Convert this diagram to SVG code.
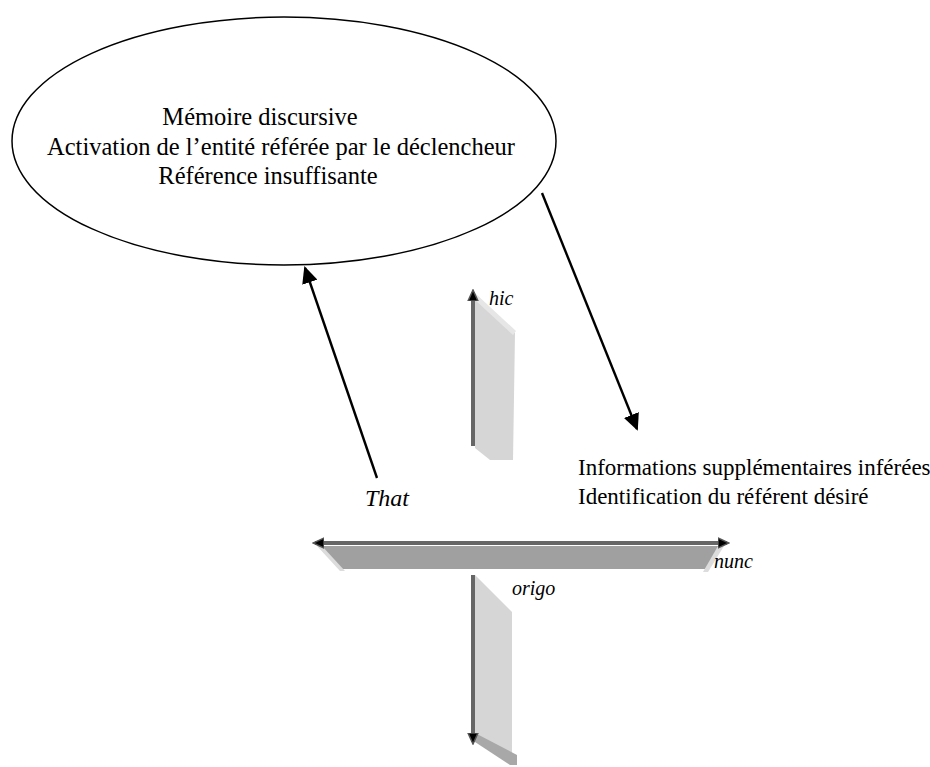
<svg xmlns="http://www.w3.org/2000/svg" width="930" height="767" viewBox="0 0 930 767">
<defs>
<style>
.t{font-family:"Liberation Serif","Times New Roman",serif;font-size:23px;fill:#000}
.e{font-size:24.5px}
.i{font-family:"Liberation Serif","Times New Roman",serif;font-style:italic;font-size:20px;fill:#000}
.bar{stroke:#666;stroke-width:4;fill:none}
.c{stroke:#000;stroke-width:2.4;fill:none}
</style>
<marker id="ah" markerWidth="17" markerHeight="16" refX="15" refY="8" orient="auto" markerUnits="userSpaceOnUse" viewBox="0 0 17 16"><path d="M0,0 L17,8 L0,16 z" fill="#000"/></marker>
<marker id="sh" markerWidth="12" markerHeight="12" refX="9" refY="6" orient="auto" markerUnits="userSpaceOnUse" viewBox="0 0 12 12"><path d="M0,1 L11,6 L0,11 z" fill="#000" stroke="#555" stroke-width="1.5"/></marker>
</defs>
<rect width="930" height="767" fill="#fff"/>
<g id="memoire">
<ellipse cx="284" cy="141" rx="272" ry="124" fill="none" stroke="#000" stroke-width="1.5"/>
<text class="t e" x="260" y="125" text-anchor="middle">Mémoire discursive</text>
<text class="t e" x="281" y="155" text-anchor="middle">Activation de l’entité référée par le déclencheur</text>
<text class="t e" x="268" y="184" text-anchor="middle">Référence insuffisante</text>
</g>
<g id="axe-hic">
<polygon points="475,295 515,333 513,460 490,460 475,448" fill="#d6d6d6"/>
<polygon points="475,293 516,331 513,335 474,299" fill="#e6e6e6"/>
<line class="bar" x1="473" y1="446" x2="473" y2="292" marker-end="url(#sh)"/>
<text class="i" x="489" y="305">hic</text>
</g>
<g id="axe-nunc">
<polygon points="318,546 723,546 705,569 342,569" fill="#a0a0a0"/>
<polygon points="317,546 322,546 345,571 340,571" fill="#dcdcdc"/>
<polygon points="718,546 724,546 708,572 703,572" fill="#dcdcdc"/>
<line class="bar" x1="325" y1="543" x2="720" y2="543"/>
<line class="bar" x1="330" y1="543" x2="315" y2="543" marker-end="url(#sh)"/>
<line class="bar" x1="710" y1="543" x2="727" y2="543" marker-end="url(#sh)"/>
<text class="i" x="714" y="568">nunc</text>
</g>
<g id="axe-origo">
<polygon points="475,575 512,612 512,757 475,737" fill="#d6d6d6"/>
<polygon points="475,733 517,755 517,765 510,765 475,742" fill="#a8a8a8"/>
<line class="bar" x1="473" y1="575" x2="473" y2="742" marker-end="url(#sh)"/>
<text class="i" x="512" y="595">origo</text>
</g>
<g id="that">
<text class="i" x="365" y="506" style="font-size:24px">That</text>
</g>
<g id="inferences">
<text class="t" x="578" y="475">Informations supplémentaires inférées</text>
<text class="t" x="578" y="504">Identification du référent désiré</text>
</g>
<g id="connectors">
<line class="c" x1="377" y1="478" x2="305" y2="268" marker-end="url(#ah)"/>
<line class="c" x1="542" y1="193" x2="637" y2="429" marker-end="url(#ah)"/>
</g>
</svg>
